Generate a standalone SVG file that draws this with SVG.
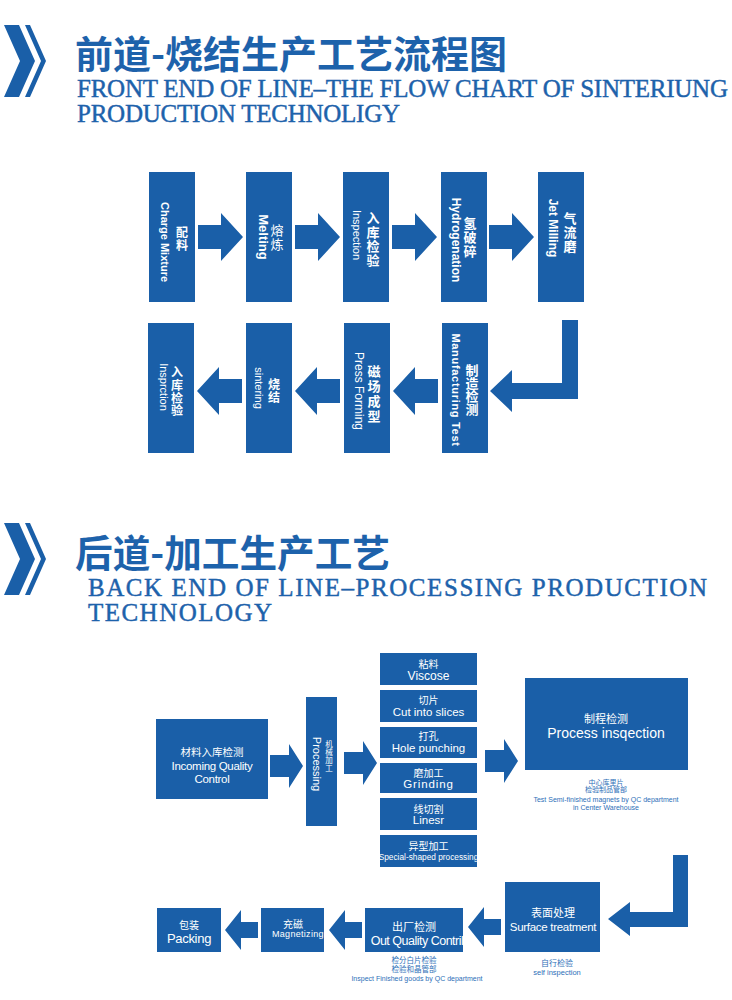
<svg xmlns="http://www.w3.org/2000/svg" width="732" height="1000" viewBox="0 0 732 1000">
<defs>
<style>
.bx{fill:#1a5fa8}
.ar{fill:#1a5fa8}
.chev{fill:#1a5fa8}
.ttl{font-family:"Noto Sans CJK SC","Noto Sans",sans-serif;font-weight:700;font-size:38px;fill:#1d62ab}
.ser{font-family:"Liberation Serif","Noto Sans CJK SC",serif;font-size:25px;fill:#1d62ab;stroke:#1d62ab;stroke-width:0.45}
.en{font-family:"Liberation Sans","Noto Sans CJK SC",sans-serif;fill:#fff}
.cn{font-family:"Noto Sans CJK SC",sans-serif;fill:#fff}
.v{text-anchor:middle;dominant-baseline:central}
.c{text-anchor:middle}
.sm{font-family:"Liberation Sans","Noto Sans CJK SC",sans-serif;fill:#2d6fb8;text-anchor:middle}
</style>
<path id="ra" d="M0,-12 H23 V-24 L45,0 L23,24 V12 H0 Z"/>
<path id="ra2" d="M0,-11 H19 V-22 L33,0 L19,22 V11 H0 Z"/>
<path id="la" d="M0,0 L16,-20 V-8 H33 V8 H16 V20 Z"/>
<g id="chevrons">
<polygon points="4,25 19,25 35,61 19,97 4,97 20,61"/>
<polygon points="25,25 30,25 46,61 30,97 25,97 41,61"/>
</g>
</defs>
<rect width="732" height="1000" fill="#fff"/>

<!-- Header 1 -->
<g id="header1">
<use href="#chevrons" class="chev"/>
<text class="ttl" x="75" y="68" textLength="432" lengthAdjust="spacingAndGlyphs">前道-烧结生产工艺流程图</text>
<text class="ser" x="77" y="97" textLength="651">FRONT END OF LINE–THE FLOW CHART OF SINTERIUNG</text>
<text class="ser" x="77" y="122" textLength="323">PRODUCTION TECHNOLIGY</text>
</g>

<!-- Front end nodes -->
<g id="n-charge">
<rect class="bx" x="149" y="172" width="46" height="130"/>
<text class="cn v" font-size="12" font-weight="700" x="182 182" y="231 244">配料</text>
<text class="en v" font-size="11" font-weight="700" transform="translate(165,242) rotate(90)">Charge Mixture</text>
</g>
<g id="n-melting">
<rect class="bx" x="246" y="172" width="46" height="130"/>
<text class="cn v" font-size="13" x="277 277" y="229 243">熔炼</text>
<text class="en v" font-size="13" font-weight="700" transform="translate(263,237) rotate(90)">Melting</text>
</g>
<g id="n-inspection1">
<rect class="bx" x="343" y="172" width="46" height="130"/>
<text class="cn v" font-size="13" font-weight="700" x="373 373 373 373" y="217 231 245 259">入库检验</text>
<text class="en v" font-size="11" transform="translate(357,235) rotate(90)">Inspection</text>
</g>
<g id="n-hydrogenation">
<rect class="bx" x="441" y="172" width="46" height="130"/>
<text class="cn v" font-size="13" font-weight="700" x="470 470 470" y="222 236 250">氢破碎</text>
<text class="en v" font-size="12" font-weight="700" transform="translate(456,240) rotate(90)">Hydrogenation</text>
</g>
<g id="n-jetmilling">
<rect class="bx" x="538" y="172" width="46" height="130"/>
<text class="cn v" font-size="13" font-weight="700" x="570 570 570" y="217 231 245">气流磨</text>
<text class="en v" font-size="12" font-weight="700" transform="translate(553,228) rotate(90)">Jet Milling</text>
</g>
<g id="n-mfgtest">
<rect class="bx" x="442" y="323" width="46" height="130"/>
<text class="cn v" font-size="13" font-weight="700" x="472 472 472 472" y="369 382 395 408">制造检测</text>
<text class="en v" font-size="11" font-weight="700" letter-spacing="0.7" transform="translate(456,390) rotate(90)">Manufacturing Test</text>
</g>
<g id="n-pressforming">
<rect class="bx" x="344" y="323" width="46" height="130"/>
<text class="cn v" font-size="13" font-weight="700" x="374 374 374 374" y="370 385 400 415">磁场成型</text>
<text class="en v" font-size="12" transform="translate(359,391) rotate(90)">Press Forming</text>
</g>
<g id="n-sintering">
<rect class="bx" x="246" y="323" width="46" height="130"/>
<text class="cn v" font-size="12" font-weight="700" x="274 274" y="383 396">烧结</text>
<text class="en v" font-size="11" transform="translate(259,388) rotate(90)">sintering</text>
</g>
<g id="n-inspection2">
<rect class="bx" x="148" y="323" width="46" height="130"/>
<text class="cn v" font-size="12" font-weight="700" x="177 177 177 177" y="371 384 397 409">入库检验</text>
<text class="en v" font-size="11" transform="translate(164,387) rotate(90)">Insprction</text>
</g>

<!-- Header 2 -->
<g id="header2">
<use href="#chevrons" class="chev" transform="translate(0,498)"/>
<text class="ttl" x="75" y="567" textLength="315" lengthAdjust="spacingAndGlyphs">后道-加工生产工艺</text>
<text class="ser" x="88" y="596" textLength="619">BACK END OF LINE–PROCESSING PRODUCTION</text>
<text class="ser" x="88" y="621" textLength="184">TECHNOLOGY</text>
</g>

<!-- Back end nodes -->
<g id="n-incoming">
<rect class="bx" x="156" y="719" width="112" height="80"/>
<text class="cn c" font-size="10.5" x="212" y="756">材料入库检测</text>
<text class="en c" font-size="11.5" letter-spacing="-0.3" x="212" y="770">Incoming Quality</text>
<text class="en c" font-size="11.5" letter-spacing="-0.3" x="212" y="783">Control</text>
</g>
<g id="n-processing">
<rect class="bx" x="306" y="697" width="31" height="129"/>
<text class="cn v" font-size="7.5" x="329 329 329 329" y="743 751 759 767">机械加工</text>
<text class="en v" font-size="11" transform="translate(317,764) rotate(90)">Processing</text>
</g>
<g id="n-viscose">
<rect class="bx" x="380" y="653" width="97" height="32"/>
<text class="cn v" font-size="10" x="428.5" y="663">粘料</text>
<text class="en v" font-size="12" x="428.5" y="676">Viscose</text>
</g>
<g id="n-cut">
<rect class="bx" x="380" y="690" width="97" height="32"/>
<text class="cn v" font-size="10" x="428.5" y="699">切片</text>
<text class="en v" font-size="11.5" x="428.5" y="712">Cut into slices</text>
</g>
<g id="n-hole">
<rect class="bx" x="380" y="727" width="97" height="31"/>
<text class="cn v" font-size="10" x="428.5" y="735">打孔</text>
<text class="en v" font-size="11.5" x="428.5" y="748">Hole punching</text>
</g>
<g id="n-grinding">
<rect class="bx" x="380" y="763" width="97" height="30"/>
<text class="cn v" font-size="10" x="428.5" y="772">磨加工</text>
<text class="en v" font-size="11.5" letter-spacing="0.9" x="428.5" y="784">Grinding</text>
</g>
<g id="n-linesr">
<rect class="bx" x="380" y="798" width="97" height="32"/>
<text class="cn v" font-size="10" x="428.5" y="808">线切割</text>
<text class="en v" font-size="11.5" x="428.5" y="820">Linesr</text>
</g>
<g id="n-special">
<rect class="bx" x="380" y="835" width="97" height="32"/>
<text class="cn v" font-size="10" x="428.5" y="845">异型加工</text>
<text class="en v" font-size="8.3" x="428.5" y="857">Special-shaped processing</text>
</g>
<g id="n-procinsp">
<rect class="bx" x="525" y="678" width="163" height="92"/>
<text class="cn v" font-size="11" x="606" y="718">制程检测</text>
<text class="en v" font-size="14" x="606" y="733">Process insqection</text>
<text class="sm" font-size="7" x="606" y="785">中心库里片</text>
<text class="sm" font-size="7" x="606" y="792">检验制品管部</text>
<text class="sm" font-size="7" x="606" y="802">Test Semi-finished magnets by QC department</text>
<text class="sm" font-size="7" x="606" y="810">in Center Warehouse</text>
</g>
<g id="n-surface">
<rect class="bx" x="505" y="882" width="95" height="70"/>
<text class="cn c" font-size="11" x="553" y="917">表面处理</text>
<text class="en c" font-size="11.5" letter-spacing="-0.3" x="553" y="931">Surface treatment</text>
<text class="sm" font-size="8" x="557" y="966">自行检验</text>
<text class="sm" font-size="7.5" x="557" y="975">self inspection</text>
</g>
<g id="n-outqc">
<rect class="bx" x="365" y="908" width="98" height="44"/>
<text class="cn c" font-size="11" x="414" y="931">出厂检测</text>
<text class="en c" font-size="12.5" letter-spacing="-0.5" x="417" y="945">Out Quality Contril</text>
<text class="sm" font-size="7.5" x="414" y="963">检分白片检验</text>
<text class="sm" font-size="7.5" x="414" y="972">检验和晶管部</text>
<text class="sm" font-size="7" x="417" y="981">Inspect Finished goods by QC department</text>
</g>
<g id="n-magnetizing">
<rect class="bx" x="261" y="908" width="63" height="44"/>
<text class="cn c" font-size="10" x="293" y="928">充磁</text>
<text class="en" font-size="9" letter-spacing="0.3" x="272" y="937">Magnetizing</text>
</g>
<g id="n-packing">
<rect class="bx" x="157" y="908" width="64" height="44"/>
<text class="cn c" font-size="10" x="189" y="929">包装</text>
<text class="en c" font-size="13" letter-spacing="-0.3" x="189" y="943">Packing</text>
</g>

<!-- Connectors -->
<g id="connectors" class="ar">
<use href="#ra" transform="translate(198,237)"/>
<use href="#ra" transform="translate(295,237)"/>
<use href="#ra" transform="translate(392,237)"/>
<use href="#ra" transform="translate(489,237)"/>
<path d="M562,320 H578 V399 H512 V412 L490,391 L512,370 V383 H562 Z"/>
<use href="#ra" transform="translate(438,391) scale(-1,1)"/>
<use href="#ra" transform="translate(340,391) scale(-1,1)"/>
<use href="#ra" transform="translate(242,391) scale(-1,1)"/>
<use href="#ra2" transform="translate(270,766)"/>
<use href="#ra2" transform="translate(344,763)"/>
<use href="#ra2" transform="translate(485,761)"/>
<path d="M673,855 H688 V927 H630 V936 L608,919 L630,902 V912 H673 Z"/>
<use href="#la" transform="translate(468,927)"/>
<use href="#la" transform="translate(329,930)"/>
<use href="#la" transform="translate(225,930)"/>
</g>
</svg>
